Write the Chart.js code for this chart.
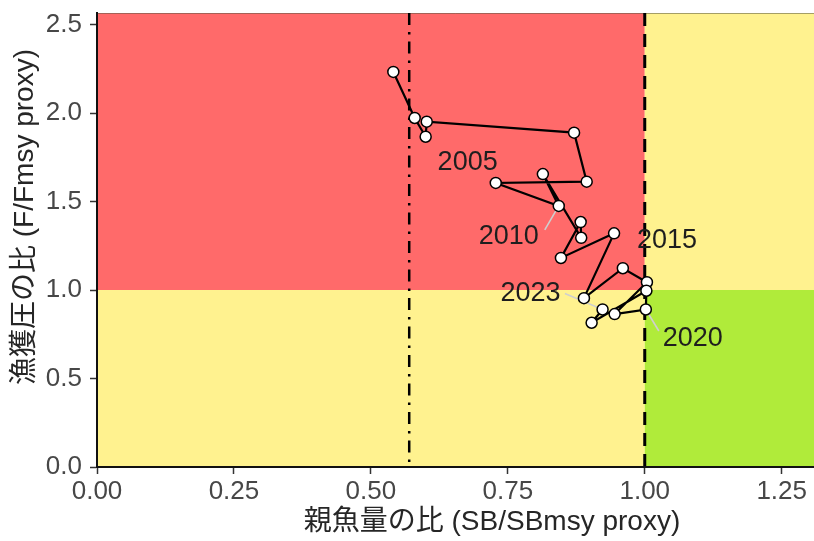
<!DOCTYPE html>
<html>
<head>
<meta charset="utf-8">
<script src="https://cdn.jsdelivr.net/npm/chart.js@4.4.1/dist/chart.umd.min.js"></script>
<style>
  html, body { margin: 0; padding: 0; background: #ffffff; }
  #wrap { width: 814px; height: 541px; }
</style>
</head>
<body>
<div id="wrap"><canvas id="kobe" width="814" height="541"></canvas></div>
<script>
// Annual stock status: spawning biomass ratio (SB/SBmsy) vs fishing pressure ratio (F/Fmsy)
const years   = [2003, 2004, 2005, 2006, 2007, 2008, 2009, 2010, 2011, 2012, 2013,
                 2014, 2015, 2016, 2017, 2018, 2019, 2020, 2021, 2022, 2023];
const sbRatio = [0.541, 0.580, 0.600, 0.602, 0.871, 0.894, 0.728, 0.843, 0.814, 0.884, 0.883,
                 0.847, 0.944, 0.889, 0.960, 1.004, 0.945, 1.002, 1.003, 0.903, 0.923];
const fRatio  = [2.232, 1.972, 1.866, 1.951, 1.889, 1.612, 1.605, 1.475, 1.655, 1.295, 1.384,
                 1.181, 1.320, 0.954, 1.123, 1.044, 0.864, 0.890, 0.996, 0.815, 0.890];

// Years annotated on the trajectory
const labelYears = [2005, 2010, 2015, 2020, 2023];

// Axis ticks
const xTickValues = [0, 0.25, 0.5, 0.75, 1.0, 1.25];
const yTickValues = [0, 0.5, 1.0, 1.5, 2.0, 2.5];

// Reference points
const sbTarget = 1.0;   // SBmsy (dashed)
const sbLimit  = 0.57;  // limit reference (dot-dash)
const fTarget  = 1.0;   // Fmsy

// Text placement for the year annotations (pixel offsets from the point)
const labelPlacement = {
  2005: { dx: 42,  dy: 26 },
  2010: { dx: -50, dy: 31,  lx: -14,  ly: 24 },
  2015: { dx: 53,  dy: 7 },
  2020: { dx: 47,  dy: 29,  lx: 13,   ly: 21.5 },
  2023: { dx: -72, dy: -16, lx: -37.7, ly: -16 }
};

const COLORS = {
  red: '#FF6A6A',
  yellow: '#FFF28F',
  green: '#B0EB3A',
  tick: '#474747',
  text: '#1e1e1e'
};

const points = years.map((yr, i) => ({ x: sbRatio[i], y: fRatio[i], year: yr }));

const zonesPlugin = {
  id: 'zones',
  beforeDraw(chart) {
    const { ctx, chartArea: a, scales: { x, y } } = chart;
    const xs = x.getPixelForValue(sbTarget);
    const yf = y.getPixelForValue(fTarget);
    ctx.save();
    ctx.fillStyle = '#ffffff';
    ctx.fillRect(0, 0, chart.width, chart.height);
    ctx.fillStyle = COLORS.red;
    ctx.fillRect(a.left, a.top, xs - a.left, yf - a.top);
    ctx.fillStyle = COLORS.yellow;
    ctx.fillRect(a.left, yf, xs - a.left, a.bottom - yf);
    ctx.fillRect(xs, a.top, a.right - xs, yf - a.top);
    ctx.fillStyle = COLORS.green;
    ctx.fillRect(xs, yf, a.right - xs, a.bottom - yf);

    // faint top edge of the panel
    ctx.strokeStyle = 'rgba(90,90,70,0.55)';
    ctx.lineWidth = 1;
    ctx.beginPath();
    ctx.moveTo(a.left, a.top + 0.5);
    ctx.lineTo(a.right, a.top + 0.5);
    ctx.stroke();

    // SBmsy reference (dashed)
    ctx.strokeStyle = '#000000';
    ctx.lineWidth = 3;
    ctx.setLineDash([13, 8]);
    ctx.beginPath();
    ctx.moveTo(xs, a.top);
    ctx.lineTo(xs, a.bottom);
    ctx.stroke();

    // limit reference (dot-dash)
    const xl = x.getPixelForValue(sbLimit);
    ctx.lineWidth = 2.5;
    ctx.setLineDash([12, 7, 2.5, 7]);
    ctx.beginPath();
    ctx.moveTo(xl, a.top);
    ctx.lineTo(xl, a.bottom);
    ctx.stroke();
    ctx.restore();
  }
};

const yearLabelPlugin = {
  id: 'yearLabels',
  beforeDatasetsDraw(chart) {
    const { ctx, scales: { x, y } } = chart;
    ctx.save();
    ctx.strokeStyle = '#cfcfcf';
    ctx.lineWidth = 1.6;
    labelYears.forEach(yr => {
      const p = labelPlacement[yr];
      if (p.lx === undefined) return;
      const i = years.indexOf(yr);
      const px = x.getPixelForValue(sbRatio[i]);
      const py = y.getPixelForValue(fRatio[i]);
      ctx.beginPath();
      ctx.moveTo(px + p.lx, py + p.ly);
      ctx.lineTo(px, py);
      ctx.stroke();
    });
    ctx.restore();
  },
  afterDatasetsDraw(chart) {
    const { ctx, scales: { x, y } } = chart;
    ctx.save();
    ctx.font = '27px "Liberation Sans", Arial, sans-serif';
    ctx.fillStyle = COLORS.text;
    ctx.textAlign = 'center';
    ctx.textBaseline = 'middle';
    labelYears.forEach(yr => {
      const p = labelPlacement[yr];
      const i = years.indexOf(yr);
      const px = x.getPixelForValue(sbRatio[i]);
      const py = y.getPixelForValue(fRatio[i]);
      ctx.fillText(String(yr), px + p.dx, py + p.dy);
    });
    ctx.restore();
  }
};

const axisTitlePlugin = {
  id: 'axisTitles',
  afterDraw(chart) {
    const { ctx } = chart;
    ctx.save();
    ctx.font = '28px "Liberation Sans", "Noto Sans CJK JP", sans-serif';
    ctx.fillStyle = '#262626';
    ctx.textAlign = 'center';
    ctx.textBaseline = 'middle';
    ctx.fillText('親魚量の比 (SB/SBmsy proxy)', 492, 522);
    ctx.translate(25, 217);
    ctx.rotate(-Math.PI / 2);
    ctx.fillText('漁獲圧の比 (F/Fmsy proxy)', 0, 0);
    ctx.restore();
  }
};

new Chart(document.getElementById('kobe'), {
  type: 'scatter',
  data: {
    datasets: [{
      data: points,
      showLine: true,
      borderColor: '#000000',
      borderWidth: 2.2,
      pointBackgroundColor: '#ffffff',
      pointBorderColor: '#000000',
      pointBorderWidth: 1.5,
      pointRadius: 5.5,
      tension: 0
    }]
  },
  options: {
    responsive: false,
    devicePixelRatio: 1,
    animation: false,
    layout: { autoPadding: false, padding: { top: 13, left: 0, right: 0, bottom: 0 } },
    plugins: { legend: { display: false }, tooltip: { enabled: false } },
    scales: {
      x: {
        type: 'linear',
        min: 0,
        max: 1.309,
        afterBuildTicks(s) { s.ticks = xTickValues.map(v => ({ value: v })); },
        afterFit(s) { s.height = 74; s.paddingLeft = 0; s.paddingRight = 0; },
        ticks: {
          callback: v => Number(v).toFixed(2),
          color: COLORS.tick,
          font: { family: '"Liberation Sans", Arial, sans-serif', size: 26 },
          padding: 2,
          maxRotation: 0
        },
        grid: { drawOnChartArea: false, drawTicks: true, tickLength: 7, tickColor: '#333333', tickWidth: 1.5 },
        border: { display: true, color: '#111111', width: 2 }
      },
      y: {
        type: 'linear',
        min: 0,
        max: 2.565,
        afterBuildTicks(s) { s.ticks = yTickValues.map(v => ({ value: v })); },
        afterFit(s) { s.width = 97; s.paddingTop = 0; s.paddingBottom = 0; },
        ticks: {
          callback: v => Number(v).toFixed(1),
          color: COLORS.tick,
          font: { family: '"Liberation Sans", Arial, sans-serif', size: 26 },
          padding: 8
        },
        grid: { drawOnChartArea: false, drawTicks: true, tickLength: 7, tickColor: '#333333', tickWidth: 1.5 },
        border: { display: true, color: '#111111', width: 2 }
      }
    }
  },
  plugins: [zonesPlugin, yearLabelPlugin, axisTitlePlugin]
});
</script>
</body>
</html>
